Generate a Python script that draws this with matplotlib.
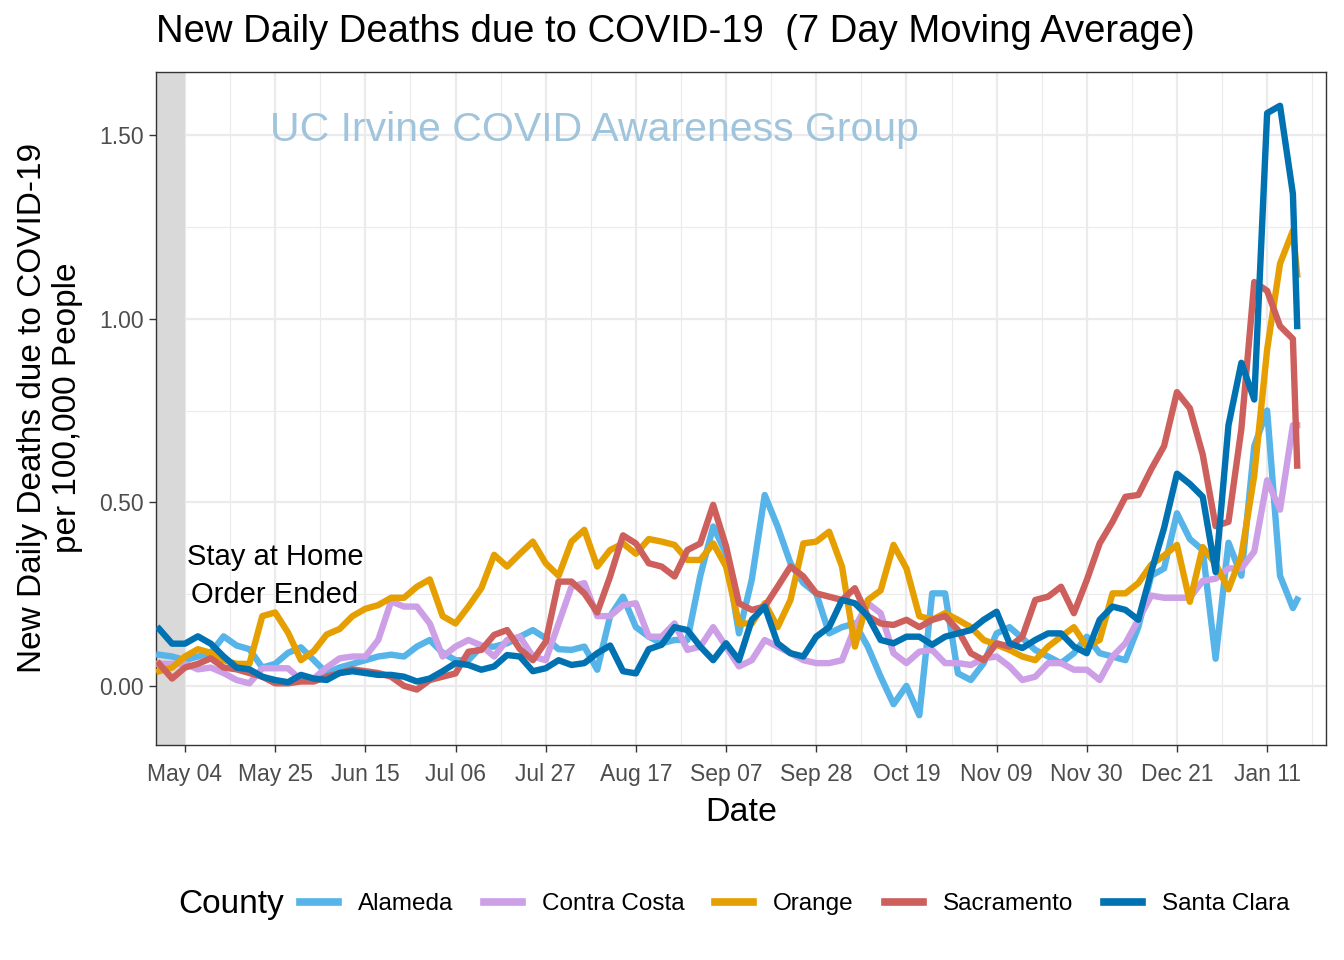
import numpy as np
import pandas as pd
import matplotlib
matplotlib.use("Agg")
import matplotlib.pyplot as plt
import matplotlib.dates as mdates
from matplotlib.lines import Line2D

# ---------------------------------------------------------
# data (7 day moving average, deaths per 100,000 people)
# ---------------------------------------------------------
dates = pd.date_range("2020-04-28", "2021-01-17", freq="3D").append(
    pd.DatetimeIndex(["2021-01-18"]))

counties = ["Alameda", "Contra Costa", "Orange", "Sacramento", "Santa Clara"]
colors = ["#56B4E9", "#CC9FE6", "#E69F00", "#CD5F5C", "#0072B2"]

alameda = [
    0.085, 0.08, 0.07, 0.08, 0.09, 0.135, 0.11, 0.10, 0.05, 0.06,
    0.09, 0.105, 0.07, 0.035, 0.05, 0.06, 0.07, 0.08, 0.085, 0.08,
    0.107, 0.125, 0.09, 0.07, 0.07, 0.107, 0.107, 0.116, 0.134, 0.152,
    0.13, 0.10, 0.098, 0.107, 0.044, 0.19, 0.243, 0.16, 0.134, 0.116,
    0.125, 0.125, 0.30, 0.434, 0.36, 0.143, 0.29, 0.52, 0.434, 0.334,
    0.28, 0.252, 0.143, 0.16, 0.17, 0.107, 0.025, -0.05, 0.0, -0.08,
    0.252, 0.252, 0.034, 0.016, 0.062, 0.143, 0.16, 0.13, 0.098, 0.08,
    0.062, 0.089, 0.134, 0.089, 0.08, 0.07, 0.16, 0.30, 0.32, 0.47,
    0.40, 0.37, 0.074, 0.39, 0.30, 0.653, 0.75, 0.30, 0.212, 0.235]

contra_costa = [
    0.06, 0.06, 0.06, 0.045, 0.05, 0.035, 0.016, 0.007, 0.048, 0.048,
    0.048, 0.016, 0.02, 0.05, 0.075, 0.08, 0.08, 0.125, 0.23, 0.216,
    0.216, 0.17, 0.08, 0.107, 0.125, 0.11, 0.08, 0.125, 0.134, 0.08,
    0.07, 0.17, 0.27, 0.28, 0.19, 0.19, 0.22, 0.225, 0.134, 0.134,
    0.17, 0.098, 0.107, 0.16, 0.107, 0.053, 0.07, 0.125, 0.107, 0.089,
    0.07, 0.062, 0.062, 0.07, 0.16, 0.225, 0.198, 0.089, 0.062, 0.093,
    0.098, 0.062, 0.062, 0.057, 0.075, 0.08, 0.053, 0.016, 0.025, 0.062,
    0.062, 0.044, 0.044, 0.016, 0.08, 0.116, 0.18, 0.246, 0.24, 0.24,
    0.24, 0.286, 0.292, 0.32, 0.32, 0.366, 0.56, 0.48, 0.71, 0.71]

orange = [
    0.04, 0.05, 0.08, 0.10, 0.09, 0.07, 0.06, 0.06, 0.19, 0.20,
    0.145, 0.07, 0.095, 0.14, 0.155, 0.19, 0.21, 0.22, 0.24, 0.24,
    0.27, 0.29, 0.19, 0.17, 0.216, 0.266, 0.357, 0.325, 0.36, 0.393,
    0.334, 0.30, 0.393, 0.425, 0.325, 0.37, 0.388, 0.36, 0.40, 0.393,
    0.384, 0.343, 0.343, 0.388, 0.325, 0.17, 0.17, 0.225, 0.16, 0.234,
    0.388, 0.393, 0.42, 0.325, 0.107, 0.234, 0.26, 0.384, 0.32, 0.19,
    0.18, 0.198, 0.18, 0.16, 0.125, 0.112, 0.098, 0.08, 0.07, 0.107,
    0.134, 0.16, 0.107, 0.125, 0.252, 0.252, 0.28, 0.33, 0.355, 0.384,
    0.229, 0.378, 0.332, 0.263, 0.355, 0.573, 0.916, 1.15, 1.24, 1.12]

sacramento = [
    0.06, 0.02, 0.05, 0.06, 0.075, 0.05, 0.045, 0.035, 0.025, 0.007,
    0.007, 0.012, 0.012, 0.025, 0.035, 0.045, 0.04, 0.035, 0.025, 0.0,
    -0.01, 0.016, 0.025, 0.034, 0.093, 0.098, 0.139, 0.152, 0.10, 0.07,
    0.12, 0.284, 0.284, 0.252, 0.20, 0.298, 0.41, 0.388, 0.334, 0.325,
    0.298, 0.37, 0.388, 0.493, 0.38, 0.225, 0.207, 0.216, 0.27, 0.325,
    0.298, 0.252, 0.243, 0.234, 0.266, 0.19, 0.17, 0.166, 0.18, 0.16,
    0.18, 0.19, 0.152, 0.089, 0.07, 0.116, 0.107, 0.134, 0.234, 0.243,
    0.27, 0.198, 0.288, 0.388, 0.447, 0.515, 0.52, 0.59, 0.653, 0.80,
    0.756, 0.63, 0.435, 0.447, 0.70, 1.10, 1.076, 0.98, 0.945, 0.60]

santa_clara = [
    0.155, 0.115, 0.115, 0.135, 0.115, 0.08, 0.05, 0.045, 0.025, 0.016,
    0.01, 0.03, 0.02, 0.016, 0.035, 0.04, 0.035, 0.03, 0.03, 0.025,
    0.012, 0.02, 0.04, 0.062, 0.057, 0.044, 0.053, 0.084, 0.08, 0.04,
    0.048, 0.07, 0.057, 0.062, 0.089, 0.11, 0.04, 0.034, 0.10, 0.112,
    0.16, 0.152, 0.107, 0.07, 0.116, 0.07, 0.18, 0.216, 0.116, 0.089,
    0.08, 0.134, 0.16, 0.234, 0.225, 0.19, 0.125, 0.116, 0.134, 0.134,
    0.112, 0.134, 0.143, 0.152, 0.18, 0.202, 0.116, 0.103, 0.125, 0.143,
    0.143, 0.107, 0.089, 0.18, 0.216, 0.207, 0.18, 0.31, 0.43, 0.578,
    0.55, 0.515, 0.31, 0.71, 0.88, 0.78, 1.56, 1.58, 1.34, 0.98]

series = [alameda, contra_costa, orange, sacramento, santa_clara]

order_ended = pd.Timestamp("2020-05-04")
tick_dates = pd.date_range("2020-05-04", "2021-01-11", freq="21D")
minor_dates = tick_dates[:-1] + (tick_dates[1:] - tick_dates[:-1]) / 2
minor_dates = minor_dates.append(pd.DatetimeIndex([tick_dates[-1] + pd.Timedelta(hours=252)]))

# ---------------------------------------------------------
# figure
# ---------------------------------------------------------
plt.rcParams["font.family"] = ["Liberation Sans", "DejaVu Sans"]

fig = plt.figure(figsize=(13.44, 9.6), dpi=100)
ax = fig.add_axes([156 / 1344, 1 - 745 / 960, 1170 / 1344, 673 / 960])

x_lo = pd.Timestamp("2020-04-27 06:00")
x_hi = pd.Timestamp("2021-01-24 17:00")
ax.set_xlim(x_lo, x_hi)
ax.set_ylim(-0.161, 1.672)

# grid (major + minor, like theme_bw)
for d in tick_dates:
    ax.axvline(d, color="#EBEBEB", lw=1.6, zorder=0)
for d in minor_dates:
    ax.axvline(d, color="#EBEBEB", lw=0.8, zorder=0)
for y in [0, 0.5, 1.0, 1.5]:
    ax.axhline(y, color="#EBEBEB", lw=1.6, zorder=0)
for y in [0.25, 0.75, 1.25]:
    ax.axhline(y, color="#EBEBEB", lw=0.8, zorder=0)

ax.axvspan(x_lo, order_ended, color="#D9D9D9", lw=0, zorder=1)

for vals, c, name in zip(series, colors, counties):
    ax.plot(dates, vals, color=c, lw=4.6, zorder=3, label=name)

ax.set_xticks(tick_dates)
ax.xaxis.set_major_formatter(mdates.DateFormatter("%b %d"))
ax.set_yticks([0, 0.5, 1.0, 1.5])
ax.set_yticklabels(["0.00", "0.50", "1.00", "1.50"])
ax.tick_params(axis="both", labelsize=16.5, labelcolor="#4D4D4D", color="#333333",
               length=5, width=1.0)
ax.tick_params(axis="x", pad=8)
ax.tick_params(axis="y", pad=4)
for s in ax.spines.values():
    s.set_color("#333333")
    s.set_linewidth(1.0)

ax.set_xlabel("Date", fontsize=24.5, va="top")
ax.xaxis.set_label_coords(0.5, -0.078)
fig.text(50 / 1344, 1 - 408 / 960, "New Daily Deaths due to COVID-19\nper 100,000 People",
         fontsize=24, rotation=90, ha="center", va="center", linespacing=1.15)

ax.text(0.0974, 0.914, "UC Irvine COVID Awareness Group", transform=ax.transAxes,
        fontsize=29.5, color="#A0C4DC", ha="left", va="center", zorder=2)
ax.text(0.1017, 0.251, "Stay at Home\nOrder Ended", transform=ax.transAxes,
        fontsize=21, color="black", ha="center", va="center", linespacing=1.45, zorder=4)

fig.text(156 / 1344, 1 - 42 / 960, "New Daily Deaths due to COVID-19  (7 Day Moving Average)",
         fontsize=27.5, ha="left", va="baseline")

# legend with the title on the left
handles = [Line2D([], [], color=c, lw=5.5) for c in colors]
fig.text(178 / 1344, 1 - 904 / 960, "County", fontsize=24, ha="left", va="center")
fig.legend(handles, counties, ncol=5, loc="center left", bbox_to_anchor=(300 / 1344, 1 - 904 / 960),
           frameon=False, fontsize=17.5, handlelength=1.56, handletextpad=0.82,
           columnspacing=1.27, borderaxespad=0, borderpad=0)

fig.savefig("out.png", dpi=100)
